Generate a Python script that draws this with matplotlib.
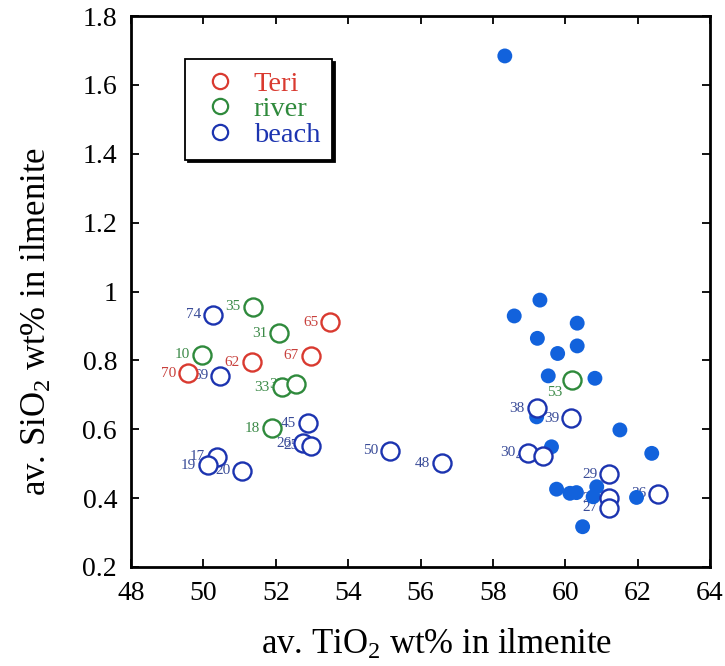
import matplotlib
matplotlib.use('Agg')
import matplotlib.pyplot as plt
from matplotlib.lines import Line2D
from matplotlib.ticker import FuncFormatter, MultipleLocator

plt.rcParams['font.family'] = ['Liberation Serif', 'DejaVu Serif']
plt.rcParams['mathtext.fontset'] = 'custom'
plt.rcParams['mathtext.rm'] = 'Liberation Serif'
plt.rcParams['mathtext.it'] = 'Liberation Serif:italic'

# Teri red sand samples
teri_tio2 = [53.50, 52.97, 51.34, 49.58]
teri_sio2 = [0.911, 0.813, 0.795, 0.763]
teri_ids = ['65', '67', '62', '70']

# river sand samples
river_tio2 = [51.36, 52.09, 49.95, 52.16, 52.56, 51.89, 60.18]
river_sio2 = [0.956, 0.879, 0.816, 0.722, 0.731, 0.603, 0.743]
river_ids = ['35', '31', '10', '33', '32', '18', '53']

# beach sand samples
beach_tio2 = [50.27, 50.46, 52.88, 52.76, 52.97, 50.37, 50.12, 51.08, 55.16,
              56.59, 59.21, 60.16, 58.96, 59.38, 61.22, 61.22, 61.22, 62.57]
beach_sio2 = [0.932, 0.755, 0.617, 0.559, 0.552, 0.520, 0.496, 0.480, 0.537,
              0.501, 0.661, 0.632, 0.532, 0.522, 0.470, 0.399, 0.372, 0.412]
beach_ids = ['74', '69', '45', '26', '25', '17', '19', '20', '50',
             '48', '38', '39', '30', '40', '29', '28', '27', '36']

# unlabelled beach grains (filled dots)
dots_tio2 = [58.33, 59.30, 58.59, 60.33, 59.23, 60.33, 59.79, 59.53, 60.82,
             59.21, 61.51, 59.62, 62.39, 59.76, 60.13, 60.31, 60.87, 60.77,
             61.97, 60.48]
dots_sio2 = [1.684, 0.975, 0.929, 0.908, 0.864, 0.842, 0.820, 0.755, 0.748,
             0.636, 0.598, 0.549, 0.530, 0.426, 0.414, 0.416, 0.433, 0.404,
             0.402, 0.317]

red = '#d93a30'
green = '#2f8a3c'
blue = '#1c34b0'
dot_blue = '#1262dc'

fig = plt.figure(figsize=(7.25, 6.66), dpi=100)
ax = fig.add_axes([131 / 725, 99 / 666, 579 / 725, 551 / 666])

ax.scatter(dots_tio2, dots_sio2, s=115, color=dot_blue, edgecolors='none', zorder=3)

groups = [(teri_tio2, teri_sio2, teri_ids, red, '#c8403c'),
          (river_tio2, river_sio2, river_ids, green, '#3c8a48'),
          (beach_tio2, beach_sio2, beach_ids, blue, '#3a4c98')]
for xs, ys, ids, c, tc in groups:
    ax.plot(xs, ys, 'o', ms=13, mfc='white', mec=c, mew=1.7, ls='none', zorder=4)
    for x, y, name in zip(xs, ys, ids):
        if name == '53':
            ax.annotate(name, (x, y), xytext=(-12, -9), textcoords='offset points',
                        ha='center', va='center', fontsize=11, color=tc, zorder=2)
        else:
            ax.annotate(name, (x, y), xytext=(-8.5, 0), textcoords='offset points',
                        ha='right', va='center', fontsize=11, color=tc, zorder=2)

ax.set_xlim(48, 64)
ax.set_ylim(0.2, 1.8)
ax.xaxis.set_major_locator(MultipleLocator(2))
ax.yaxis.set_major_locator(MultipleLocator(0.2))
ax.yaxis.set_major_formatter(FuncFormatter(lambda v, p: '%g' % round(v, 1)))
ax.tick_params(direction='in', top=True, right=True, length=6, width=1.3,
               labelsize=20, pad=10)
for sp in ax.spines.values():
    sp.set_linewidth(2)

ax.set_xlabel('av. TiO$_2$ wt% in ilmenite', fontsize=25)
ax.set_ylabel('av. SiO$_2$ wt% in ilmenite', fontsize=25)
ax.xaxis.set_label_coords(0.527, -0.142)
ax.yaxis.set_label_coords(-0.162, 0.445)
ax.xaxis.label.set_va('center')
ax.yaxis.label.set_va('center')

handles = [Line2D([], [], marker='o', ls='none', ms=11, mfc='white', mec=c, mew=1.6)
           for c in (red, green, blue)]
leg = ax.legend(handles, ['Teri', 'river', 'beach'], loc='upper left',
                bbox_to_anchor=(185 / 725, 1 - 59 / 666), bbox_transform=fig.transFigure,
                borderaxespad=0, fontsize=20.5, labelcolor=[red, green, blue],
                frameon=True, fancybox=False, shadow={'color': 'black', 'alpha': 1},
                handlelength=1.6, handletextpad=0.4, labelspacing=-0.02,
                borderpad=0.42)
leg.get_frame().set_edgecolor('black')
leg.get_frame().set_linewidth(1.3)
leg.get_frame().set_alpha(1)

fig.savefig('out.png', dpi=100)
